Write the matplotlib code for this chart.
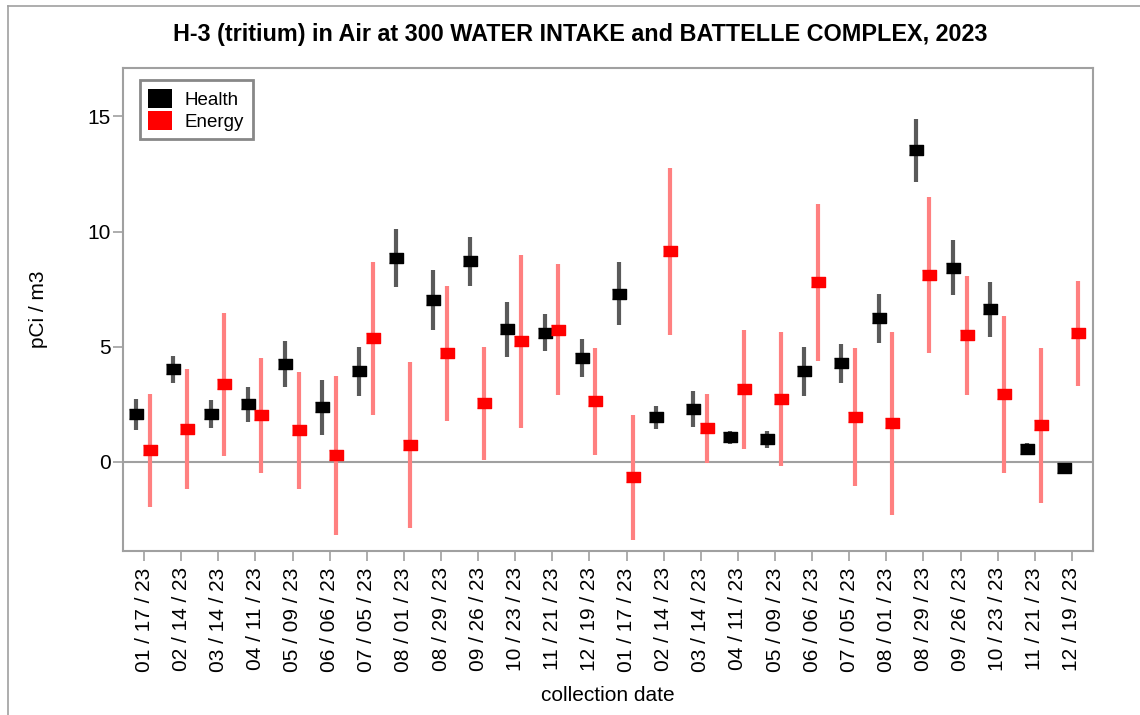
import numpy as np
import matplotlib.pyplot as plt
from matplotlib.patches import Patch
from matplotlib.lines import Line2D

# Sampling dates (two years of the same schedule shown side by side)
dates = ["01 / 17 / 23", "02 / 14 / 23", "03 / 14 / 23", "04 / 11 / 23",
         "05 / 09 / 23", "06 / 06 / 23", "07 / 05 / 23", "08 / 01 / 23",
         "08 / 29 / 23", "09 / 26 / 23", "10 / 23 / 23", "11 / 21 / 23",
         "12 / 19 / 23"] * 2

# Health results and uncertainties
health = [2.07, 4.02, 2.07, 2.50, 4.25, 2.38, 3.94, 8.85, 7.05, 8.71, 5.76, 5.62, 4.51,
          7.31, 1.95, 2.30, 1.08, 0.98, 3.94, 4.28, 6.23, 13.52, 8.44, 6.63, 0.58, -0.26]
health_err = [0.68, 0.60, 0.60, 0.77, 0.98, 1.20, 1.07, 1.26, 1.30, 1.07, 1.20, 0.80, 0.81,
              1.35, 0.50, 0.77, 0.28, 0.36, 1.07, 0.85, 1.07, 1.37, 1.20, 1.20, 0.23, 0.22]

# Energy results and uncertainties
energy = [0.51, 1.42, 3.37, 2.02, 1.37, 0.29, 5.36, 0.74, 4.71, 2.54, 5.23, 5.75, 2.63,
          -0.66, 9.15, 1.46, 3.15, 2.73, 7.80, 1.94, 1.68, 8.11, 5.49, 2.93, 1.59, 5.58]
energy_err = [2.45, 2.60, 3.10, 2.50, 2.55, 3.45, 3.30, 3.60, 2.93, 2.47, 3.75, 2.85, 2.33,
              2.72, 3.63, 1.50, 2.60, 2.90, 3.40, 3.00, 3.97, 3.37, 2.60, 3.40, 3.36, 2.27]

plt.rcParams["font.family"] = ["Liberation Sans", "DejaVu Sans"]

grey = "#a0a0a0"
x = np.arange(len(dates))
rect = [(-1, -0.75), (1, -0.75), (1, 0.75), (-1, 0.75)]

fig = plt.figure(figsize=(11.4, 7.15), dpi=100)
ax = fig.add_axes([0.1079, 0.2298, 0.8506, 0.6751])

ax.axhline(0, color=grey, lw=1.5, zorder=1)

ax.errorbar(x - 0.21, health, yerr=health_err, fmt="none", ecolor="#5a5a5a",
            elinewidth=3, capsize=0, zorder=2)
ax.plot(x - 0.21, health, ls="none", marker=rect, ms=10.5, color="black", zorder=3)

ax.errorbar(x + 0.16, energy, yerr=energy_err, fmt="none", ecolor="#ff8080",
            elinewidth=3, capsize=0, zorder=2)
ax.plot(x + 0.16, energy, ls="none", marker=rect, ms=10.5, color="red", zorder=3)

ax.set_xlim(-0.57, 25.56)
ax.set_ylim(-3.85, 17.1)
ax.set_yticks([0, 5, 10, 15])
ax.set_xticks(x)
ax.set_xticklabels(dates, rotation=90)
ax.tick_params(axis="both", colors=grey, labelcolor="black", labelsize=15,
               length=7, width=1.2)
ax.tick_params(axis="x", pad=5)
ax.tick_params(axis="y", pad=2)
for s in ax.spines.values():
    s.set_color(grey)
    s.set_linewidth(1.5)

ax.set_xlabel("collection date", fontsize=15, labelpad=10)
ax.set_ylabel("pCi / m3", fontsize=15, labelpad=28)
fig.text(0.509, 1 - 35 / 715,
         "H-3 (tritium) in Air at 300 WATER INTAKE and BATTELLE COMPLEX, 2023",
         ha="center", va="center", fontsize=16.8, fontweight="bold")

handles = [Patch(facecolor="black", edgecolor="none", label="Health"),
           Patch(facecolor="red", edgecolor="none", label="Energy")]
leg = ax.legend(handles=handles, loc="upper left", bbox_to_anchor=(0.0175, 0.975),
                borderaxespad=0, fontsize=13.5, fancybox=False, framealpha=1,
                handlelength=1.25, handleheight=1.25, labelspacing=0.1,
                handletextpad=0.7, borderpad=0.45)
leg.get_frame().set_edgecolor("#888888")
leg.get_frame().set_linewidth(2)

# screenshot border on top and left
fig.add_artist(Line2D([7.5 / 1140, 7.5 / 1140], [0, 1 - 5.5 / 715], color=grey, lw=1.2))
fig.add_artist(Line2D([7.5 / 1140, 1], [1 - 5.5 / 715, 1 - 5.5 / 715], color=grey, lw=1.2))

fig.savefig("out.png", dpi=100)
